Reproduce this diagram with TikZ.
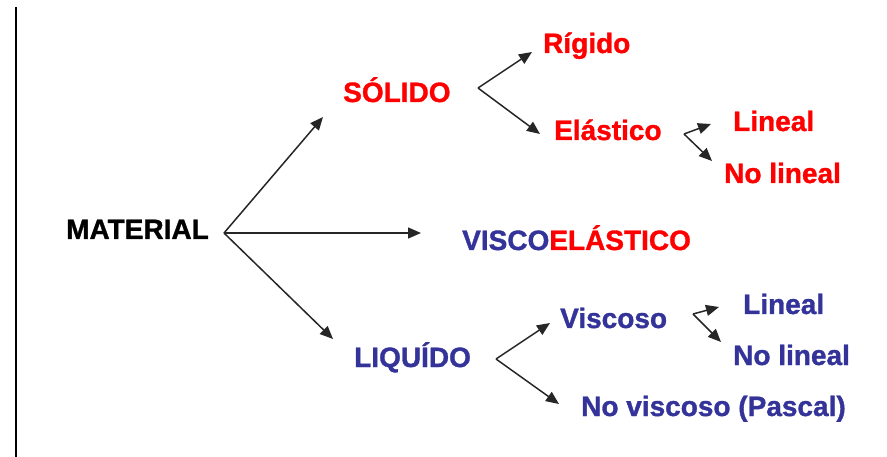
\documentclass[tikz,border=0pt]{standalone}
\usepackage{fontspec}
\setmainfont{Liberation Sans}[BoldFeatures={FakeBold=1.2}]
\usetikzlibrary{arrows.meta}
\definecolor{rojo}{RGB}{255,0,0}
\definecolor{azul}{RGB}{51,51,153}

\begin{document}
\begin{tikzpicture}[x=1pt,y=-1pt]
	\useasboundingbox (0,0) rectangle (887,457);
	\draw[line width=2pt] (15.5,7) -- (15.5,457);

	\begin{scope}[every node/.style={anchor=base west,inner sep=0pt,
		font=\fontsize{28}{30}\selectfont\bfseries}]
		\node (MAT) at (66,239) {MATERIAL};
		\node[text=rojo] (SOL) at (343,102) {SÓLIDO};
		\node[text=rojo] (RIG) at (543,53) {Rígido};
		\node[text=rojo] (ELA) at (554,140) {Elástico};
		\node[text=rojo] (LIN1) at (733,131) {Lineal};
		\node[text=rojo] (NOL1) at (724,183) {No lineal};
		\node (VEL) at (462,250) {\textcolor{azul}{VISCO}\textcolor{rojo}{ELÁSTICO}};
		\node[text=azul] (LIQ) at (354,367) {LIQUÍDO};
		\node[text=azul] (VIS) at (560,328) {Viscoso};
		\node[text=azul] (LIN2) at (743,314) {Lineal};
		\node[text=azul] (NOL2) at (733,365) {No lineal};
		\node[text=azul] (NOV) at (581,416) {No viscoso (Pascal)};
	\end{scope}

	% puntos de partida y llegada de las flechas
	\coordinate (fMAT) at (224,233);
	\coordinate (fSOL) at (478,88);
	\coordinate (fELA) at (684,134);
	\coordinate (fLIQ) at (496,359);
	\coordinate (fVIS) at (693,314);
	\coordinate (tSOL) at (323,117);
	\coordinate (tVEL) at (421,233);
	\coordinate (tLIQ) at (333,339);
	\coordinate (tRIG) at (532,52);
	\coordinate (tELA) at (540,134);
	\coordinate (tLIN1) at (711,124);
	\coordinate (tNOL1) at (712,161);
	\coordinate (tVIS) at (550,323);
	\coordinate (tNOV) at (559,404);
	\coordinate (tLIN2) at (719,307);
	\coordinate (tNOL2) at (721,342);

	\begin{scope}[>={Triangle[length=13pt,width=11pt]},
		every edge/.style={draw=black!85,line width=1.5pt}]
		\path [->] (fMAT) edge (tSOL);
		\path [->] (fMAT) edge (tVEL);
		\path [->] (fMAT) edge (tLIQ);

		\path [->] (fSOL) edge (tRIG);
		\path [->] (fSOL) edge (tELA);

		\path [->] (fELA) edge (tLIN1);
		\path [->] (fELA) edge (tNOL1);

		\path [->] (fLIQ) edge (tVIS);
		\path [->] (fLIQ) edge (tNOV);

		\path [->] (fVIS) edge (tLIN2);
		\path [->] (fVIS) edge (tNOL2);
	\end{scope}
\end{tikzpicture}
\end{document}
